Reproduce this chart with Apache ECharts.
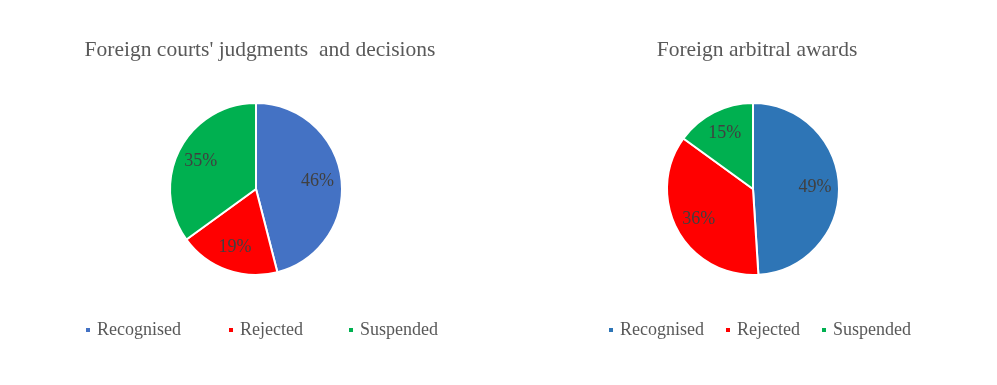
<!DOCTYPE html>
<html>
<head>
<meta charset="utf-8">
<script src="https://cdn.jsdelivr.net/npm/echarts@6/dist/echarts.min.js"></script>
<style>
html,body{margin:0;padding:0;background:#fff;}
#c{width:997px;height:385px;}
</style>
</head>
<body>
<div id="c"></div>
<script>
var categories = ['Recognised', 'Rejected', 'Suspended'];
var courtsValues = [46, 19, 35];
var arbitralValues = [49, 36, 15];
var titles = ["Foreign courts' judgments  and decisions", 'Foreign arbitral awards'];
var courtsColors = ['#4472C4', '#FF0000', '#00B050'];
var arbitralColors = ['#2E75B6', '#FF0000', '#00B050'];

var FONT = '"Liberation Serif", "Times New Roman", serif';

function pieData(vals, colors) {
  return categories.map(function (n, i) {
    return { name: n, value: vals[i], itemStyle: { color: colors[i] } };
  });
}
function labelData(vals) {
  return categories.map(function (n, i) {
    return { name: n, value: vals[i] };
  });
}
function mainPie(center, vals, colors) {
  return {
    type: 'pie', center: center, radius: 86, startAngle: 90, clockwise: true,
    label: { show: false }, labelLine: { show: false },
    itemStyle: { borderColor: '#ffffff', borderWidth: 2 },
    emphasis: { disabled: true },
    data: pieData(vals, colors)
  };
}
function labelPie(center, vals) {
  return {
    type: 'pie', center: center, radius: [32, 86], startAngle: 90, clockwise: true,
    silent: true, z: 5,
    itemStyle: { color: 'rgba(0,0,0,0)', borderWidth: 0 },
    label: { show: true, position: 'inside', formatter: '{c}%', fontFamily: FONT, fontSize: 18, color: '#404040' },
    labelLine: { show: false },
    emphasis: { disabled: true },
    data: labelData(vals)
  };
}
function legendItem(x, name, color) {
  return {
    left: x, top: 321, padding: 0, orient: 'horizontal', icon: 'rect', itemWidth: 6, itemHeight: 6, itemGap: 0,
    selectedMode: false,
    textStyle: { fontFamily: FONT, fontSize: 18, color: '#595959', padding: [0, 0, 0, 1] },
    data: [{ name: name, itemStyle: { color: color } }]
  };
}

var leftX = [84, 227, 347];
var rightX = [607, 724, 820];
var legends = [];
categories.forEach(function (n, i) { legends.push(legendItem(leftX[i], n, courtsColors[i])); });
categories.forEach(function (n, i) { legends.push(legendItem(rightX[i], n, arbitralColors[i])); });

var chart = echarts.init(document.getElementById('c'), null, { renderer: 'canvas' });
chart.setOption({
  backgroundColor: '#ffffff',
  animation: false,
  title: [
    { text: titles[0], left: 255, top: 34, textAlign: 'center', textStyle: { fontFamily: FONT, fontSize: 21.5, fontWeight: 'normal', color: '#595959' } },
    { text: titles[1], left: 752, top: 34, textAlign: 'center', textStyle: { fontFamily: FONT, fontSize: 21.5, fontWeight: 'normal', color: '#595959' } }
  ],
  legend: legends,
  series: [
    mainPie([256, 189], courtsValues, courtsColors),
    labelPie([256, 189], courtsValues),
    mainPie([753, 189], arbitralValues, arbitralColors),
    labelPie([753, 189], arbitralValues)
  ]
});
</script>
</body>
</html>
